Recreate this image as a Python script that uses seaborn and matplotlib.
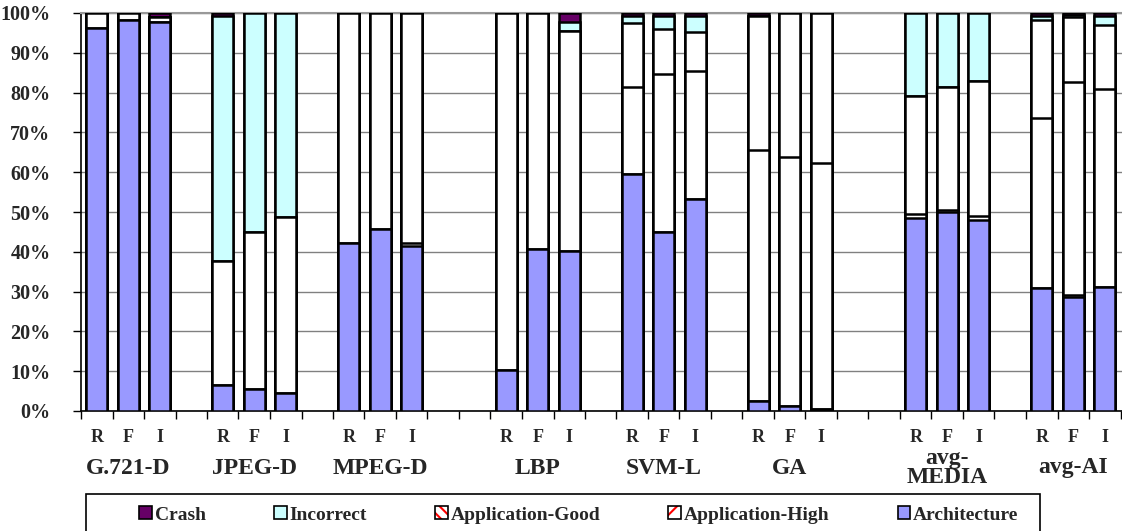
import numpy as np
import pandas as pd
import matplotlib
matplotlib.use("Agg")
import matplotlib.pyplot as plt
import seaborn as sns
from matplotlib.patches import Patch, Rectangle
from matplotlib.legend_handler import HandlerTuple
from matplotlib.ticker import FixedLocator

# ---------------- data ----------------
groups = ["G.721-D", "JPEG-D", "MPEG-D", "LBP", "SVM-L", "GA", "avg-\nMEDIA", "avg-AI"]
variants = ["R", "F", "I"]
# values in percent, per bar (group x variant), stacked bottom -> top
architecture = [96.3, 98.2, 97.8, 6.5, 5.5, 4.4, 42.1, 45.7, 41.5, 10.3, 40.6, 40.3,
                59.6, 45.0, 53.2, 2.5, 1.2, 0.5, 48.4, 50.1, 48.0, 30.8, 28.7, 31.2]
app_good = [0, 0, 0, 0, 0, 0, 0, 0, 0.8, 0, 0, 0,
            0, 0, 0, 0, 0, 0, 1.2, 0.5, 1.0, 0, 0.4, 0]
app_high = [3.7, 1.8, 1.3, 31.2, 39.6, 44.4, 57.9, 54.3, 57.7, 89.7, 59.4, 55.3,
            21.7, 39.7, 32.2, 63.1, 62.5, 61.7, 29.5, 30.9, 33.9, 42.7, 53.6, 49.8]
other = [0, 0, 0, 0, 0, 0, 0, 0, 0, 0, 0, 0,
         16.1, 11.4, 9.9, 33.7, 36.3, 37.8, 0, 0, 0, 24.8, 16.3, 16.0]
incorrect = [0, 0, 0, 61.6, 54.9, 51.2, 0, 0, 0, 0, 0, 2.2,
             1.9, 3.1, 3.9, 0, 0, 0, 20.9, 18.5, 17.1, 1.0, 0.5, 2.3]
crash = [0, 0, 0.9, 0.7, 0, 0, 0, 0, 0, 0, 0, 2.2,
         0.7, 0.8, 0.8, 0.7, 0, 0, 0, 0, 0, 0.7, 0.5, 0.7]

series_names = ["Architecture", "Application-Good", "Application-High", "Other", "Incorrect", "Crash"]
series_vals = [architecture, app_good, app_high, other, incorrect, crash]
series_colors = ["#9999FF", "white", "white", "white", "#CCFFFF", "#660066"]

# ---------------- layout ----------------
group_start = [0, 4, 8, 13, 17, 21, 26, 30]
positions = [s + j for s in group_start for j in range(3)]
bar_labels = [v for _ in groups for v in variants]

sns.set_theme(style="white")
plt.rcParams["font.family"] = ["Liberation Serif", "DejaVu Serif"]
plt.rcParams["font.weight"] = "bold"
plt.rcParams["hatch.linewidth"] = 1.5

fig = plt.figure(figsize=(11.22, 5.31), dpi=100)
W, H = 1122, 531
ax_left, ax_right, ax_bottom, ax_top = 81, 1122, 411, 13
ax = fig.add_axes([ax_left / W, 1 - ax_bottom / H, (ax_right - ax_left) / W, (ax_bottom - ax_top) / H])

# long-form frame with cumulative tops
rows = []
cum = np.zeros(len(positions))
for name, vals in zip(series_names, series_vals):
    cum = cum + np.array(vals, dtype=float)
    for p, c in zip(positions, cum):
        rows.append({"pos": p, "top": c, "series": name})
df = pd.DataFrame(rows)

# draw from the top of the stack downward so each layer shows its own segment
for name, col in reversed(list(zip(series_names, series_colors))):
    sub = df[df["series"] == name]
    sns.barplot(data=sub, x="pos", y="top", native_scale=True, color=col,
                saturation=1, edgecolor="black", linewidth=1.8, width=0.66,
                errorbar=None, ax=ax, zorder=3)

slot_px = 31.5
ax.set_xlim(-0.5, -0.5 + (ax_right - ax_left) / slot_px)
ax.set_ylim(0, 100)

# y axis
ax.set_yticks(np.arange(0, 101, 10))
ax.set_yticklabels([f"{v}%" for v in range(0, 101, 10)], fontsize=14.5, fontweight="bold")
ax.yaxis.grid(True, color="#808080", linewidth=1.0, zorder=0)
ax.set_axisbelow(True)
ax.tick_params(axis="y", which="major", direction="out", length=6, width=1, color="black",
               left=True, pad=16)

# x axis
ax.set_xticks(positions)
ax.set_xticklabels(bar_labels, fontsize=13, fontweight="bold")
ax.tick_params(axis="x", which="major", length=0, pad=13)
ax.xaxis.set_minor_locator(FixedLocator(np.arange(-0.5, 33.5, 1.0)))
ax.tick_params(axis="x", which="minor", direction="out", length=6, width=1, color="black", bottom=True)
ax.set_xlabel("")
ax.set_ylabel("")

for side in ["left", "bottom"]:
    ax.spines[side].set_color("black")
    ax.spines[side].set_linewidth(1.2)
ax.spines["top"].set_color("#999999")
ax.spines["top"].set_linewidth(1.5)
ax.spines["right"].set_visible(False)

# group labels
label_y = -(468 - ax_bottom) / (ax_bottom - ax_top)
for g, s in zip(groups, group_start):
    ax.text(s + 1, label_y, g,
            transform=ax.get_xaxis_transform(), ha="center", va="center",
            fontsize=17, fontweight="bold", linespacing=0.88)

# legend
def boxed(fc, hatch=None, hc="red"):
    if hatch is None:
        return Patch(facecolor=fc, edgecolor="black", linewidth=1.2)
    return (Patch(facecolor=fc, edgecolor=hc, hatch=hatch, linewidth=0),
            Patch(facecolor="none", edgecolor="black", linewidth=1.2))

handles = [boxed("#660066"), boxed("#CCFFFF"), boxed("white", "\\\\\\"),
           boxed("white", "//"), boxed("#9999FF")]
labels = ["Crash", "Incorrect", "Application-Good", "Application-High", "Architecture"]
fig.legend(handles, labels, loc="center", bbox_to_anchor=(579 / W, 1 - 515 / H),
           ncol=5, frameon=False, prop={"size": 14, "weight": "bold"},
           columnspacing=3.5, handlelength=0.65, handleheight=0.65, handletextpad=0.15,
           handler_map={tuple: HandlerTuple(ndivide=1, pad=0)})
fig.patches.append(Rectangle((86 / W, -0.2), (1040 - 86) / W, 0.2 + (531 - 494) / H,
                             transform=fig.transFigure, fill=False,
                             edgecolor="black", linewidth=1.2))

fig.savefig("out.png", dpi=100)
